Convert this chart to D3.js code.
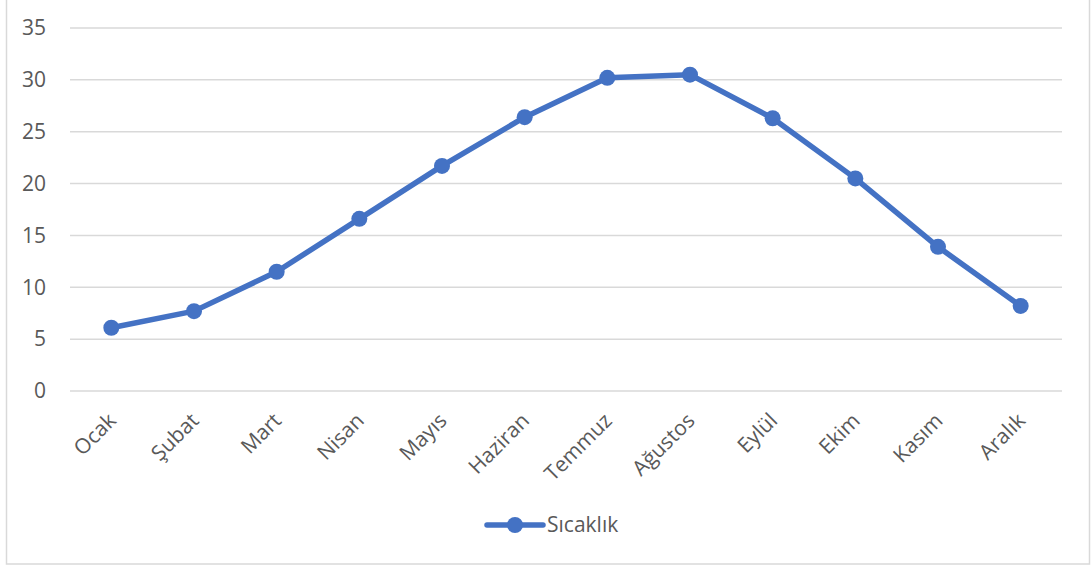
<!DOCTYPE html>
<html>
<head>
<meta charset="utf-8">
<script src="https://cdnjs.cloudflare.com/ajax/libs/d3/7.8.5/d3.min.js"></script>
<style>
  body { margin: 0; background: #fff; }
  text { font-family: "Open Sans", "Noto Sans", sans-serif; fill: #595959; }
</style>
</head>
<body>
<script>
// chart data
var months = ["Ocak", "Şubat", "Mart", "Nisan", "Mayıs", "Haziran", "Temmuz", "Ağustos", "Eylül", "Ekim", "Kasım", "Aralık"];
var temps = [6.1, 7.7, 11.5, 16.6, 21.7, 26.4, 30.2, 30.5, 26.3, 20.5, 13.9, 8.2];
var yTicks = [0, 5, 10, 15, 20, 25, 30, 35];
var seriesName = "Sıcaklık";

var svgWidth = 1091;
var svgHeight = 569;
var color = "#4472C4";
var fontSize = 21;

var svg = d3.select("body")
    .append("svg")
    .attr("width", svgWidth)
    .attr("height", svgHeight);

// outer chart border
svg.append("rect")
    .attr("x", 6.5)
    .attr("y", -2)
    .attr("width", 1083)
    .attr("height", 566)
    .attr("fill", "none")
    .attr("stroke", "#d9d9d9")
    .attr("stroke-width", 1.5);

// scales
var xScale = d3.scaleBand()
    .domain(months)
    .range([70, 1062]);

var yScale = d3.scaleLinear()
    .domain([0, 35])
    .range([391, 28]);

// gridlines
svg.append("g")
    .attr("class", "grid")
    .selectAll("line")
    .data(yTicks)
    .enter()
    .append("line")
    .attr("x1", 70)
    .attr("x2", 1062)
    .attr("y1", d => yScale(d))
    .attr("y2", d => yScale(d))
    .attr("stroke", "#d9d9d9")
    .attr("stroke-width", 1.5);

// y axis
var yAxis = d3.axisLeft(yScale).tickValues(yTicks).tickSize(0).tickPadding(0);
var yG = svg.append("g")
    .attr("transform", "translate(46,0)")
    .call(yAxis);
yG.select(".domain").remove();
yG.selectAll("text")
    .attr("font-size", fontSize)
    .attr("font-family", null)
    .attr("fill", null);

// x axis labels, rotated -45
var xAxis = d3.axisBottom(xScale).tickSize(0).tickPadding(0);
var xG = svg.append("g")
    .attr("transform", "translate(0,391)")
    .call(xAxis);
xG.select(".domain").remove();
xG.selectAll(".tick text")
    .attr("font-size", fontSize)
    .attr("font-family", null)
    .attr("fill", null)
    .attr("text-anchor", "end")
    .attr("dy", 0)
    .attr("y", 0)
    .attr("transform", "translate(6,31) rotate(-45)");

// line
var line = d3.line()
    .x((d, i) => xScale(months[i]) + xScale.bandwidth() / 2)
    .y(d => yScale(d));

svg.append("path")
    .datum(temps)
    .attr("d", line)
    .attr("fill", "none")
    .attr("stroke", color)
    .attr("stroke-width", 5.5)
    .attr("stroke-linejoin", "round");

// markers
svg.selectAll("circle.pt")
    .data(temps)
    .enter()
    .append("circle")
    .attr("class", "pt")
    .attr("cx", (d, i) => xScale(months[i]) + xScale.bandwidth() / 2)
    .attr("cy", d => yScale(d))
    .attr("r", 8)
    .attr("fill", color);

// legend
var legend = svg.append("g").attr("transform", "translate(487,525)");
legend.append("line")
    .attr("x1", 0).attr("x2", 56)
    .attr("stroke", color)
    .attr("stroke-width", 5.5)
    .attr("stroke-linecap", "round");
legend.append("circle")
    .attr("cx", 28)
    .attr("r", 8)
    .attr("fill", color);
legend.append("text")
    .attr("x", 60)
    .attr("dy", "0.35em")
    .attr("font-size", fontSize)
    .text(seriesName);
</script>
</body>
</html>
